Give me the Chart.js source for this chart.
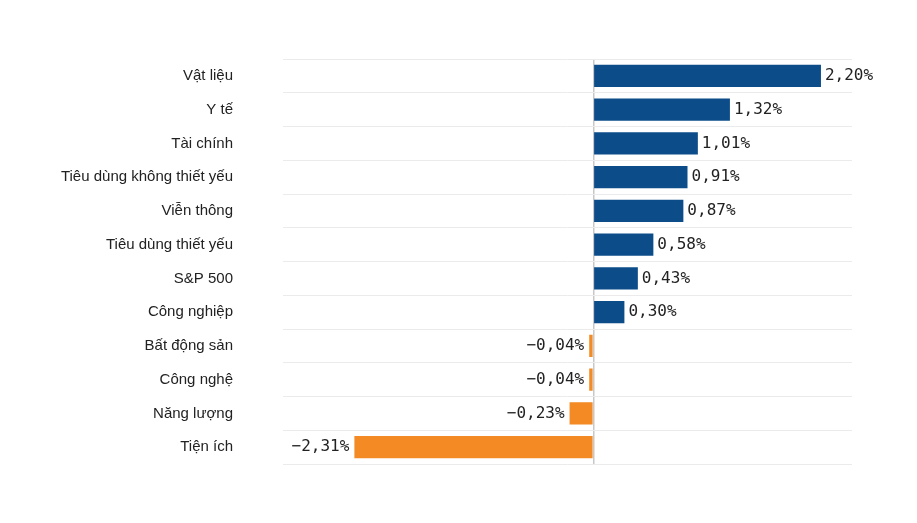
<!DOCTYPE html>
<html lang="vi">
<head>
<meta charset="UTF-8">
<title>Ngành S&amp;P 500</title>
<script src="https://cdn.jsdelivr.net/npm/chart.js"></script>
<style>body{margin:0;background:#fff;overflow:hidden}</style>
</head>
<body>
<canvas id="chart" width="917" height="523"></canvas>
<script>
const sectors = ['Vật liệu','Y tế','Tài chính','Tiêu dùng không thiết yếu','Viễn thông','Tiêu dùng thiết yếu','S&P 500','Công nghiệp','Bất động sản','Công nghệ','Năng lượng','Tiện ích'];
const changes = [2.20, 1.32, 1.01, 0.91, 0.87, 0.58, 0.43, 0.30, -0.04, -0.04, -0.23, -2.31];

const fmt = v => (v < 0 ? '\u2212' : '') + Math.abs(v).toFixed(2).replace('.', ',') + '%';

// value labels beside each bar
const valueLabels = {
  id: 'valueLabels',
  afterDatasetsDraw(chart) {
    const ctx = chart.ctx;
    const meta = chart.getDatasetMeta(0);
    ctx.save();
    ctx.font = '16px "DejaVu Sans Mono", monospace';
    ctx.fillStyle = '#222';
    ctx.textBaseline = 'middle';
    meta.data.forEach((bar, i) => {
      const v = changes[i];
      if (v >= 0) { ctx.textAlign = 'left'; ctx.fillText(fmt(v), bar.x + 4, bar.y); }
      else { ctx.textAlign = 'right'; ctx.fillText(fmt(v), bar.x - 5, bar.y); }
    });
    ctx.restore();
  }
};

new Chart(document.getElementById('chart'), {
  type: 'bar',
  data: {
    labels: sectors,
    datasets: [{
      data: changes,
      backgroundColor: changes.map(v => v >= 0 ? '#0c4c89' : '#f38a24'),
      barPercentage: 0.66,
      categoryPercentage: 1
    }]
  },
  options: {
    indexAxis: 'y',
    responsive: false,
    animation: false,
    devicePixelRatio: 1,
    layout: { padding: { top: 7, bottom: 2, right: 65, left: 0 } },
    plugins: { legend: { display: false }, tooltip: { enabled: false } },
    scales: {
      x: {
        min: -3, max: 2.5,
        ticks: { display: false, stepSize: 0.5 },
        border: { display: false },
        grid: {
          drawTicks: false,
          color: c => c.tick && c.tick.value === 0 ? '#c8c8c8' : 'rgba(0,0,0,0)',
          lineWidth: 1.5
        }
      },
      y: {
        afterFit(scale) { scale.width = 283; },
        border: { display: false },
        ticks: {
          padding: 50,
          color: '#222',
          font: { family: '"Liberation Sans", Arial, sans-serif', size: 15 }
        },
        grid: { offset: true, drawTicks: false, color: '#ebebeb' }
      }
    }
  },
  plugins: [valueLabels]
});
</script>
</body>
</html>
